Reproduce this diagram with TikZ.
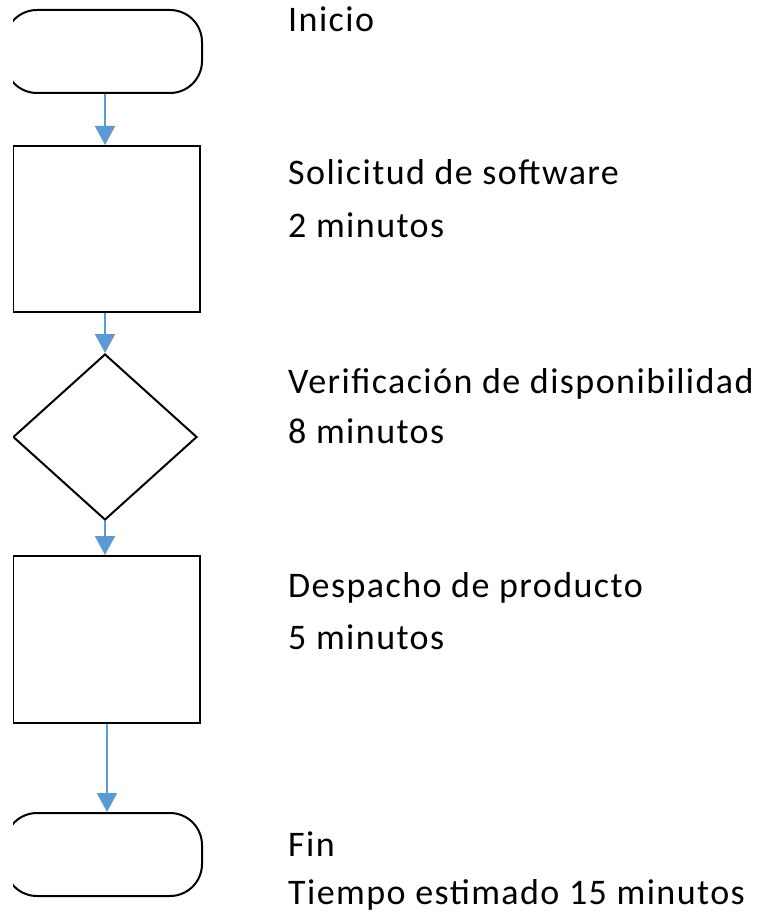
\documentclass[tikz,border=0pt]{standalone}
\usepackage{fontspec}
\setmainfont{Carlito}[LetterSpace=4]
\usetikzlibrary{arrows.meta,shapes.geometric}
\definecolor{flowblue}{HTML}{5B9BD5}
\tikzset{
  termbox/.style={draw=black, line width=2pt, rectangle, rounded corners=32pt, minimum width=197pt, minimum height=83pt, inner sep=0pt},
  procbox/.style={draw=black, line width=2pt, rectangle, minimum width=187pt, inner sep=0pt},
  decbox/.style={draw=black, line width=2pt, diamond, minimum width=184pt, minimum height=166pt, inner sep=0pt},
  flowarr/.style={draw=flowblue, line width=2pt, -{Triangle[width=20pt,length=19pt]}},
  lbl/.style={anchor=base west, inner sep=0pt, font=\fontsize{36}{43}\selectfont}
}
\begin{document}
\begin{tikzpicture}[x=1pt,y=-1pt]
\useasboundingbox (0,0) rectangle (766,917);
\coordinate (ax) at (105,0);
\coordinate (bx) at (107,0);
\begin{scope}
\clip (13,0) rectangle (766,917);
\node[termbox] (t1) at (103.5,51.5) {};
\node[procbox, minimum height=166pt] (r1) at (106.5,229) {};
\node[decbox] (d1) at (105,437) {};
\node[procbox, minimum height=167pt] (r2) at (106.5,639.5) {};
\node[termbox] (t2) at (103.5,854.5) {};
\end{scope}
\draw[flowarr] (t1.south -| ax) -- (r1.north -| ax);
\draw[flowarr] (r1.south -| ax) -- (d1.north);
\draw[flowarr] (d1.south) -- (r2.north -| ax);
\draw[flowarr] (r2.south -| bx) -- (t2.north -| bx);
\node[lbl] (l1) at (288,32) {Inicio};
\node[lbl] (l2) at (288,185) {Solicitud de software};
\node[lbl] (l2b) at (288,237) {2 minutos};
\node[lbl] (l3) at (288,393) {Verificación de disponibilidad};
\node[lbl] (l3b) at (288,443) {8 minutos};
\node[lbl] (l4) at (288,597) {Despacho de producto};
\node[lbl] (l4b) at (288,649) {5 minutos};
\node[lbl] (l5) at (288,856) {Fin};
\node[lbl] (l5b) at (288,904) {Tiempo estimado 15 minutos};
\end{tikzpicture}
\end{document}
